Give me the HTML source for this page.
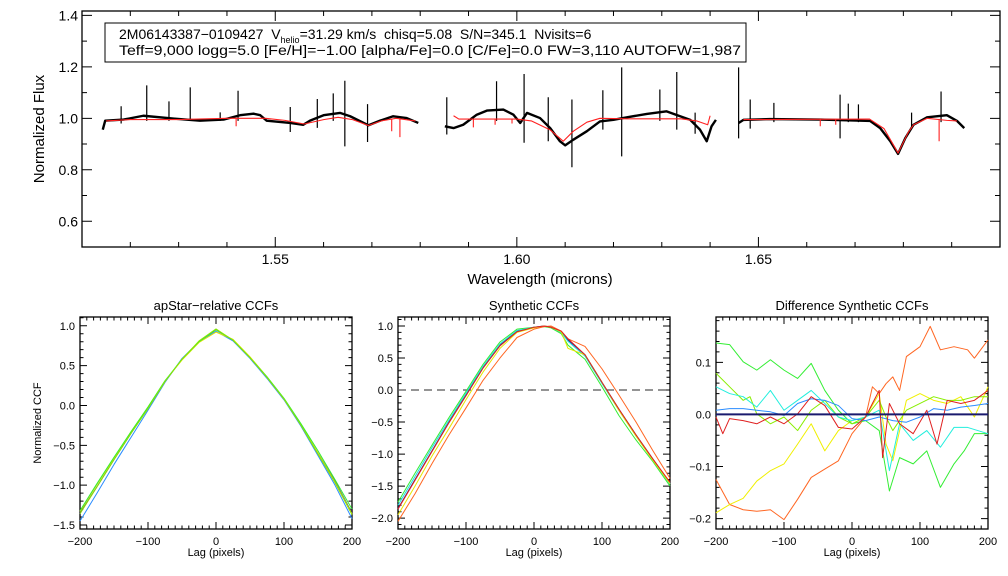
<!DOCTYPE html>
<html><head><meta charset="utf-8"><style>
body{margin:0;background:#fff}
svg{display:block;font-family:"Liberation Sans",Arial,sans-serif}
</style></head><body>
<svg id="c" width="1008" height="576" viewBox="0 0 1008 576"></svg>
<script>
// ---------- Spectrum data ----------
const seg1W=[1.5143,1.5148,1.5186,1.5227,1.5289,1.5344,1.5393,1.5427,1.5455,1.5469,1.5482,1.5531,1.5558,1.5572,1.5600,1.5634,1.5655,1.5693,1.5717,1.5744,1.5772,1.5796];
const seg1F=[0.956,0.991,0.995,1.010,0.999,0.991,0.995,1.012,1.018,1.012,0.991,0.982,0.975,0.991,1.012,1.021,1.008,0.973,0.991,1.008,1.001,0.982];
const seg2W=[1.5851,1.5869,1.5889,1.5917,1.5938,1.5972,1.5993,1.6007,1.6021,1.6048,1.6069,1.6089,1.6100,1.6117,1.6145,1.6172,1.6200,1.6228,1.6269,1.6310,1.6338,1.6359,1.6379,1.6393,1.6403,1.6412];
const seg2F=[0.969,0.962,0.975,1.014,1.030,1.034,1.014,0.982,1.021,1.001,0.962,0.911,0.895,0.917,0.950,0.988,0.994,1.004,1.017,1.027,1.008,0.994,0.956,0.911,0.969,0.994];
const seg3W=[1.6459,1.6469,1.6524,1.6628,1.6731,1.6752,1.6773,1.6789,1.6804,1.6821,1.6849,1.6890,1.6911,1.6926];
const seg3F=[0.982,0.994,0.997,0.995,0.990,0.962,0.911,0.862,0.923,0.975,1.004,1.012,0.990,0.962];
const spikeW=[1.5181,1.5234,1.5280,1.5324,1.5386,1.5423,1.5531,1.5587,1.5620,1.5644,1.5691,1.5855,1.5958,1.6015,1.6065,1.6114,1.6178,1.6217,1.6296,1.6331,1.6369,1.6459,1.6483,1.6532,1.6669,1.6686,1.6707,1.6817,1.6878];
const spikeTop=[1.047,1.128,1.066,1.120,1.023,1.107,1.044,1.075,1.097,1.146,1.055,1.082,1.144,1.172,1.082,1.073,1.109,1.198,1.112,1.180,1.022,1.198,1.073,1.060,1.092,1.057,1.054,1.022,1.104];
const spikeBot=[0.980,0.990,0.990,0.990,0.990,0.990,0.947,0.963,0.990,0.891,0.908,0.937,0.990,0.905,0.911,0.810,0.956,0.852,0.990,0.956,0.940,0.922,0.960,0.985,0.922,0.985,0.985,0.960,0.985];
const model1W=[1.5150,1.5200,1.5300,1.5400,1.5480,1.5520,1.5560,1.5600,1.5630,1.5660,1.5693,1.5720,1.5750,1.5790];
const model1F=[0.990,0.995,0.995,1.000,1.000,0.992,0.978,0.995,1.004,0.995,0.972,0.990,1.000,0.990];
const model2W=[1.5869,1.5880,1.6000,1.6030,1.6069,1.6096,1.6117,1.6145,1.6172,1.6228,1.6340,1.6372,1.6395,1.6400];
const model2F=[1.010,0.997,0.997,0.990,0.955,0.911,0.950,0.985,1.000,0.998,0.998,0.990,0.975,1.010];
const model3W=[1.6469,1.6600,1.6730,1.6760,1.6789,1.6810,1.6821,1.6849,1.6890,1.6911];
const model3F=[0.995,0.996,0.997,0.960,0.865,0.945,0.975,1.000,0.992,0.990];
const modelLineW=[1.5419,1.5741,1.5758,1.5910,1.5955,1.5990,1.6628,1.6660,1.6874];
const modelLineF=[0.969,0.950,0.927,0.965,0.975,0.980,0.969,0.975,0.911];
const flTicksX=[1.55,1.60,1.65];
const flTicksY=[0.6,0.8,1.0,1.2,1.4];
// ---------- CCF data ----------
const lagA=[-200,-175,-150,-125,-100,-75,-50,-25,0,25,50,75,100,125,150,175,200];
const ccfA=[
 [-1.35,-1.02,-0.68,-0.35,-0.03,0.30,0.58,0.80,0.95,0.82,0.60,0.35,0.08,-0.25,-0.60,-0.95,-1.35],
 [-1.45,-1.10,-0.74,-0.40,-0.06,0.29,0.59,0.80,0.93,0.81,0.59,0.34,0.07,-0.26,-0.63,-1.00,-1.42],
 [-1.33,-0.99,-0.66,-0.33,-0.02,0.31,0.57,0.79,0.92,0.83,0.61,0.36,0.08,-0.24,-0.60,-0.96,-1.36],
 [-1.32,-0.98,-0.65,-0.33,-0.02,0.31,0.58,0.80,0.95,0.82,0.60,0.36,0.09,-0.23,-0.57,-0.93,-1.30],
 [-1.36,-1.02,-0.68,-0.35,-0.04,0.30,0.58,0.81,0.96,0.82,0.60,0.35,0.08,-0.25,-0.61,-0.97,-1.37]];
const colA=["#1a1a8c","#2a8cff","#e6e600","#33ee33","#8ce600"];
const lagB=[-200,-175,-150,-125,-100,-75,-50,-25,0,15,25,40,50,75,100,125,150,175,200];
const ccfB=[
 [-1.85,-1.40,-0.95,-0.50,-0.08,0.35,0.70,0.92,0.98,1.00,0.98,0.90,0.78,0.55,0.12,-0.30,-0.70,-1.08,-1.45],
 [-1.75,-1.30,-0.86,-0.43,-0.02,0.40,0.75,0.95,0.98,0.99,0.97,0.88,0.70,0.48,0.05,-0.40,-0.78,-1.12,-1.50],
 [-1.80,-1.35,-0.90,-0.47,-0.05,0.37,0.72,0.93,0.98,1.00,0.98,0.90,0.76,0.53,0.10,-0.32,-0.72,-1.10,-1.47],
 [-1.95,-1.50,-1.03,-0.60,-0.15,0.28,0.65,0.90,0.97,1.00,0.98,0.91,0.65,0.55,0.12,-0.32,-0.72,-1.10,-1.46],
 [-2.05,-1.62,-1.15,-0.70,-0.28,0.15,0.50,0.82,0.95,0.99,1.00,0.92,0.80,0.68,0.33,-0.08,-0.50,-0.95,-1.38],
 [-1.86,-1.41,-0.96,-0.51,-0.09,0.34,0.69,0.91,0.98,1.00,0.98,0.92,0.80,0.55,0.12,-0.30,-0.70,-1.08,-1.44]];
const colB=["#1a1a8c","#33ee33","#22dddd","#e6e600","#ff6622","#e02020"];
const lagOr=[-200,-180,-160,-140,-120,-100,-80,-60,-40,-20,0,20,30,40,50,60,70,80,100,115,130,150,170,180,200];
const valOr=[-0.125,-0.173,-0.183,-0.186,-0.183,-0.202,-0.163,-0.121,-0.105,-0.089,-0.037,-0.005,0.053,0.040,0.059,0.072,0.046,0.111,0.130,0.169,0.124,0.130,0.124,0.108,0.143];
const lagYe=[-200,-180,-160,-140,-120,-100,-80,-60,-40,-20,0,20,40,50,60,80,100,120,140,160,180,200];
const valYe=[-0.189,-0.173,-0.161,-0.128,-0.108,-0.095,-0.057,-0.018,-0.070,-0.031,-0.012,-0.005,0.040,-0.057,-0.089,0.027,0.040,0.027,0.021,0.034,-0.005,0.053];
const lagGr=[-200,-180,-160,-140,-120,-100,-80,-60,-40,-20,0,20,40,55,70,90,110,130,150,165,180,200];
const valGr=[0.137,0.134,0.101,0.085,0.105,0.085,0.069,0.098,0.046,0.008,-0.018,-0.012,-0.031,-0.147,-0.083,-0.095,-0.070,-0.140,-0.095,-0.070,-0.037,-0.037];
const lagCh=[-200,-180,-160,-150,-140,-120,-100,-80,-60,-40,-20,0,20,40,50,60,80,100,120,140,160,180,200];
const valCh=[0.079,0.053,0.027,0.034,0.001,-0.018,-0.005,-0.031,0.008,0.027,-0.005,-0.018,-0.005,0.027,-0.005,-0.031,0.008,0.021,0.034,0.027,0.027,0.034,0.034];
const lagCy=[-200,-180,-160,-140,-120,-100,-80,-60,-40,-20,0,20,40,55,70,90,110,130,150,170,200];
const valCy=[0.053,0.040,0.034,0.014,0.046,0.008,0.027,0.046,0.021,-0.005,-0.012,-0.005,0.008,-0.108,-0.018,-0.050,-0.031,-0.063,-0.025,-0.025,-0.037];
const lagBl=[-200,-180,-160,-140,-120,-100,-80,-60,-40,-20,0,20,40,60,80,100,120,140,160,180,200];
const valBl=[0.008,0.011,0.011,0.008,0.005,-0.002,0.021,0.030,0.027,0.017,-0.008,-0.012,-0.005,-0.012,-0.015,-0.005,0.011,0.008,0.014,0.017,0.021];
const lagRe=[-200,-190,-180,-160,-140,-120,-100,-80,-60,-40,-20,0,20,30,40,45,55,70,90,110,125,140,160,180,200];
const valRe=[-0.005,-0.037,-0.008,-0.012,-0.018,-0.005,-0.018,0.001,0.034,0.017,-0.025,-0.028,-0.005,0.021,0.046,-0.083,0.021,-0.018,-0.037,0.008,-0.057,0.027,0.021,0.027,0.046];
const lagTicks=[-200,-100,0,100,200];

const NS="http://www.w3.org/2000/svg";
const svg=document.getElementById('c');
function el(tag,attrs,parent){const e=document.createElementNS(NS,tag);for(const k in attrs)e.setAttribute(k,attrs[k]);(parent||svg).appendChild(e);return e;}
function scale(d0,d1,r0,r1){return v=>r0+(v-d0)/(d1-d0)*(r1-r0);}

function axes(g,box,xs,ys,xr,yr,xMaj,xMin,yMaj,yMin,tl){
  const r=el('rect',{x:box.l,y:box.t,width:box.r-box.l,height:box.b-box.t,fill:'none',stroke:'#000','stroke-width':1.3},g);
  
  
  let d='';
  for(let v=xr[0];v<=xr[1]+1e-9;v+=xMin){const x=xs(v);const maj=Math.abs(Math.round(v/xMaj)*xMaj-v)<xMin/10;const L=maj?tl:tl/2;d+=`M${x},${box.b}v${-L}M${x},${box.t}v${L}`;}
  for(let v=yr[0];v<=yr[1]+1e-9;v+=yMin){const y=ys(v);const maj=Math.abs(Math.round(v/yMaj)*yMaj-v)<yMin/10;const L=maj?tl:tl/2;d+=`M${box.l},${y}h${L}M${box.r},${y}h${-L}`;}
  const t=el('path',{d:d,stroke:'#000','stroke-width':1,fill:'none'},g);
  
  
}
function poly(g,xs,ys,X,Y,color,w,name){
  const p=el('polyline',{points:X.map((v,i)=>xs(v)+','+ys(Y[i])).join(' '),fill:'none',stroke:color,'stroke-width':w,'stroke-linejoin':'round'},g);
  
  
  return p;
}
function txt(g,x,y,s,size,anchor,name,extra){
  const t=el('text',Object.assign({x:x,y:y,'font-size':size,'text-anchor':anchor||'middle',fill:'#000'},extra||{}),g);
  t.textContent=s;
  
  
  return t;
}

// ---------- Top spectrum panel ----------
const gt=el('g',{});


const B={l:82,r:1000,t:11,b:247};
const X=scale(1.51,1.70,B.l,B.r), Y=scale(0.5,1.417,B.b,B.t);
axes(gt,B,X,Y,[1.51,1.70],[0.5,1.4],0.05,0.01,0.2,0.1,10);
flTicksX.forEach(v=>txt(gt,X(v),264,v.toFixed(2),14,'middle','x-tick-label'));
flTicksY.forEach(v=>txt(gt,B.l-4,Y(v)+5,v.toFixed(1),14,'end','y-tick-label'));
txt(gt,540,284,'Wavelength (microns)',15,'middle','x-axis-title');
txt(gt,0,0,'Normalized Flux',15,'middle','y-axis-title',{transform:'translate(44,129) rotate(-90)'});
let sd='';
spikeW.forEach((w,i)=>{sd+=`M${X(w)},${Y(spikeTop[i])}V${Y(spikeBot[i])}`;});
const sp=el('path',{d:sd,stroke:'#000','stroke-width':1.2,fill:'none'},gt);


poly(gt,X,Y,seg1W,seg1F,'#000',2.4,'observed-spectrum-chip-blue');
poly(gt,X,Y,seg2W,seg2F,'#000',2.4,'observed-spectrum-chip-green');
poly(gt,X,Y,seg3W,seg3F,'#000',2.4,'observed-spectrum-chip-red');
poly(gt,X,Y,model1W,model1F,'#ff2020',1.1,'model-spectrum-chip-blue');
poly(gt,X,Y,model2W,model2F,'#ff2020',1.1,'model-spectrum-chip-green');
poly(gt,X,Y,model3W,model3F,'#ff2020',1.1,'model-spectrum-chip-red');
let md='';
modelLineW.forEach((w,i)=>{md+=`M${X(w)},${Y(0.998)}V${Y(modelLineF[i])}`;});
const ml=el('path',{d:md,stroke:'#ff2020','stroke-width':1.1,fill:'none'},gt);


const ib=el('rect',{x:105,y:23,width:641,height:39,fill:'#fff',stroke:'#000','stroke-width':1},gt);


const l1=el('text',{x:119,y:39,'font-size':14,fill:'#000'},gt);


l1.innerHTML='2M06143387−0109427  V<tspan font-size="9" dy="4">helio</tspan><tspan dy="-4">=31.29 km/s  chisq=5.08  S/N=345.1  Nvisits=6</tspan>';
l1.style.whiteSpace='pre';
txt(gt,119,55,'Teff=9,000 logg=5.0 [Fe/H]=−1.00 [alpha/Fe]=0.0 [C/Fe]=0.0 FW=3,110 AUTOFW=1,987',14,'start','info-line-2',{textLength:622,lengthAdjust:'spacingAndGlyphs'});

// ---------- CCF panels ----------
function ccfPanel(name,title,box,yr,yMaj,yMin,yTicks,fmt){
  const g=el('g',{});
  
  
  const xs=scale(-200,200,box.l,box.r), ys=scale(yr[0],yr[1],box.b,box.t);
  axes(g,box,xs,ys,[-200,200],[Math.ceil(yr[0]/yMin-1e-6)*yMin,yr[1]],100,10,yMaj,yMin,7);
  lagTicks.forEach(v=>txt(g,xs(v),545,String(v).replace('-','−'),11,'middle','x-tick-label'));
  yTicks.forEach(v=>txt(g,box.l-5,ys(v)+4,fmt(v),11,'end','y-tick-label'));
  txt(g,(box.l+box.r)/2,310,title,13,'middle','panel-title');
  txt(g,(box.l+box.r)/2,556,'Lag (pixels)',11,'middle','x-axis-title');
  return {g,xs,ys};
}
const f1=v=>v.toFixed(1).replace('-','−');
const P1=ccfPanel('apstar-ccf-panel','apStar−relative CCFs',{l:80,r:352,t:317,b:529},[-1.55,1.11],0.5,0.1,[-1.5,-1.0,-0.5,0.0,0.5,1.0],f1);
txt(P1.g,0,0,'Normalized CCF',11,'middle','y-axis-title',{transform:'translate(41,423) rotate(-90)'});
ccfA.forEach((s,i)=>poly(P1.g,P1.xs,P1.ys,lagA,s,colA[i],1,'apstar-ccf-'+i));

const P2=ccfPanel('synthetic-ccf-panel','Synthetic CCFs',{l:398,r:670,t:317,b:529},[-2.17,1.14],0.5,0.1,[-2.0,-1.5,-1.0,-0.5,0.0,0.5,1.0],f1);
const zl=el('line',{x1:398,x2:670,y1:P2.ys(0),y2:P2.ys(0),stroke:'#555','stroke-width':1.2,'stroke-dasharray':'8,5'},P2.g);


ccfB.forEach((s,i)=>poly(P2.g,P2.xs,P2.ys,lagB,s,colB[i],1,'synthetic-ccf-'+i));

const P3=ccfPanel('difference-ccf-panel','Difference Synthetic CCFs',{l:716,r:988,t:317,b:529},[-0.22,0.187],0.1,0.02,[-0.2,-0.1,0.0,0.1],f1);
poly(P3.g,P3.xs,P3.ys,lagOr,valOr,'#ff6622',1,'diff-ccf-orange');
poly(P3.g,P3.xs,P3.ys,lagYe,valYe,'#f0f000',1,'diff-ccf-yellow');
poly(P3.g,P3.xs,P3.ys,lagGr,valGr,'#33ee33',1,'diff-ccf-green');
poly(P3.g,P3.xs,P3.ys,lagCh,valCh,'#88ee00',1,'diff-ccf-chartreuse');
poly(P3.g,P3.xs,P3.ys,lagCy,valCy,'#22eedd',1,'diff-ccf-cyan');
poly(P3.g,P3.xs,P3.ys,lagBl,valBl,'#2a8cff',1,'diff-ccf-blue');
poly(P3.g,P3.xs,P3.ys,lagRe,valRe,'#e02020',1,'diff-ccf-red');
const nz=el('line',{x1:716,x2:988,y1:P3.ys(0),y2:P3.ys(0),stroke:'#1a1a6e','stroke-width':2},P3.g);


</script>
</body></html>
